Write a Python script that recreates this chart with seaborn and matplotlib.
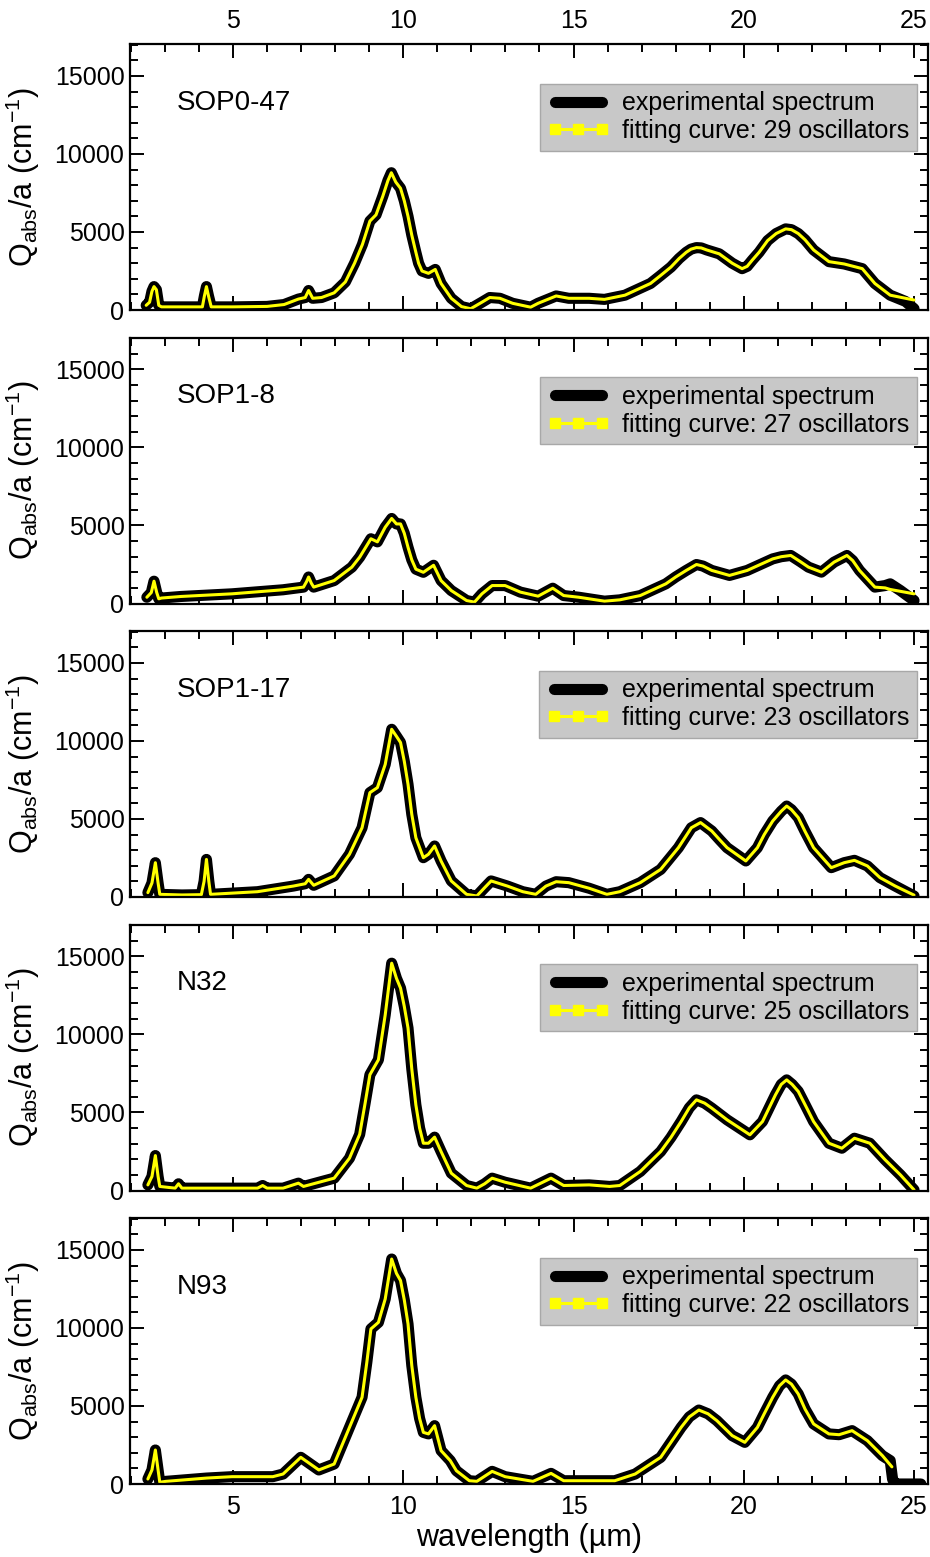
import matplotlib
matplotlib.use("Agg")
import matplotlib.pyplot as plt
from matplotlib.lines import Line2D
from matplotlib.ticker import MultipleLocator
import seaborn as sns

# spectra: wavelength (um) and Q_abs/a (cm^-1)
sop047_wl = [2.45, 2.55, 2.62, 2.68, 2.75, 2.82, 2.9, 3.5, 4.1, 4.16, 4.22, 4.28, 4.36, 5.0, 6.0, 6.5, 6.92, 7.12,
             7.22, 7.34, 7.6, 7.97, 8.3, 8.57, 8.8, 9.02, 9.2, 9.4, 9.55, 9.65, 9.78, 9.92, 10.03, 10.14, 10.25,
             10.37, 10.45, 10.55, 10.74, 10.94, 11.11, 11.41, 11.71, 11.98, 12.31, 12.54, 12.84, 13.21, 13.74,
             13.96, 14.49, 14.86, 15.46, 15.91, 16.51, 17.26, 17.55, 17.86, 18.1, 18.31, 18.45, 18.61, 18.75,
             18.91, 19.28, 19.66, 19.95, 20.1, 20.25, 20.45, 20.7, 20.95, 21.23, 21.4, 21.6, 21.8, 22.05, 22.5,
             22.95, 23.48, 23.85, 24.3, 24.75, 25.0]
sop047_exp = [300, 500, 1200, 1500, 1300, 300, 200, 200, 200, 900, 1500, 900, 200, 200, 230, 350, 700, 800,
              1250, 750, 800, 1100, 1800, 3000, 4200, 5700, 6100, 7300, 8300, 8800, 8200, 7800, 7000, 6000, 4800,
              3700, 3000, 2500, 2350, 2600, 1700, 750, 220, 80, 500, 800, 750, 430, 180,
              430, 900, 750, 750, 680, 950, 1700, 2200, 2750, 3300, 3700, 3900, 4000, 3980,
              3850, 3600, 3000, 2650, 2800, 3200, 3700, 4450, 4900, 5200, 5150, 4900, 4500, 3850, 3100,
              2950, 2650, 1700, 950, 550, 80]
sop047_fit = sop047_exp[:-2] + [750, 640]

sop18_wl = [2.47, 2.6, 2.68, 2.76, 2.82, 2.9, 3.47, 4.97, 6.47, 7.07, 7.16, 7.22, 7.3, 7.37, 7.97, 8.49, 8.72,
            9.05, 9.24, 9.47, 9.66, 9.8, 9.92, 10.03, 10.14, 10.25, 10.37, 10.59, 10.89, 11.11, 11.41, 11.86,
            12.09, 12.31, 12.61, 12.99, 13.44, 13.96, 14.39, 14.71, 15.16, 15.91, 16.36, 16.96, 17.71, 18.0,
            18.31, 18.61, 18.8, 19.06, 19.58, 20.1, 20.85, 21.1, 21.38, 21.65, 21.9, 22.28, 22.65, 23.03, 23.2,
            23.4, 23.85, 24.15, 24.3, 24.6, 25.0]
sop18_exp = [400, 700, 1430, 700, 300, 350, 450, 620, 880, 1050, 1400, 1700, 1300, 1050, 1470, 2330, 2970,
             4150, 3950, 4890, 5450, 5100, 5100, 4500, 3600, 2800, 2200, 2000, 2450, 1470, 830, 190,
             85, 620, 1150, 1150, 730, 470, 980, 510, 400, 150, 235, 510, 1260, 1700,
             2120, 2500, 2400, 2120, 1800, 2120, 2860, 3000, 3080, 2700, 2330, 2010, 2650, 3080, 2750,
             2120, 1050, 1150, 1260, 830, 190]
sop18_fit = sop18_exp[:-4] + [1000, 900, 780, 620]

sop117_wl = [2.5, 2.62, 2.72, 2.8, 2.85, 3.5, 4.07, 4.15, 4.22, 4.29, 4.34, 5.72, 6.77, 7.12, 7.22, 7.37, 7.97,
             8.42, 8.79, 9.02, 9.24, 9.47, 9.66, 9.8, 9.92, 10.03, 10.14, 10.25, 10.37, 10.59, 10.74, 10.92,
             11.11, 11.41, 11.86, 12.16, 12.39, 12.58, 13.06, 13.51, 13.89, 14.19, 14.49, 14.86, 15.46, 15.98,
             16.36, 16.96, 17.56, 18.08, 18.3, 18.46, 18.73, 19.06, 19.3, 19.51, 20.06, 20.4, 20.6, 20.85, 21.1,
             21.26, 21.4, 21.6, 21.8, 22.05, 22.57, 22.95, 23.25, 23.63, 24.0, 24.45, 25.0]
sop117_exp = [280, 900, 2200, 900, 170, 130, 150, 1000, 2410, 1000, 170, 340, 700, 850, 1130, 750, 1350,
              2740, 4440, 6690, 7010, 8500, 10750, 10300, 9900, 8700, 7220, 5300, 3800, 2520, 2740, 3270,
              2310, 1030, 170, 64, 600, 1030, 700, 340, 170, 700, 980, 920, 560, 170,
              340, 920, 1770, 3160, 3900, 4440, 4770, 4230, 3650, 3160, 2310, 3160, 4000, 4870, 5500,
              5830, 5600, 5090, 4200, 3160, 1880, 2200, 2350, 1990, 1240, 700, 64]
sop117_fit = sop117_exp[:-1] + [120]

n32_wl = [2.5, 2.62, 2.72, 2.8, 2.85, 3.3, 3.4, 3.5, 5.72, 5.87, 6.0, 6.47, 6.92, 7.07, 7.97, 8.42, 8.72, 8.88,
          9.02, 9.27, 9.47, 9.66, 9.8, 9.92, 10.03, 10.14, 10.25, 10.37, 10.48, 10.59, 10.74, 10.92, 11.11,
          11.41, 11.86, 12.16, 12.39, 12.61, 12.99, 13.74, 14.34, 14.71, 15.46, 16.06, 16.36, 16.96, 17.56,
          17.86, 18.16, 18.4, 18.61, 18.85, 19.06, 19.51, 20.18, 20.55, 20.93, 21.1, 21.26, 21.42, 21.6, 21.8,
          22.05, 22.5, 22.88, 23.25, 23.7, 24.15, 24.6, 25.0]
n32_exp = [360, 900, 2240, 900, 260, 150, 430, 150, 150, 320, 150, 150, 470, 260, 790, 2070, 3600, 5600,
           7420, 8380, 11260, 14570, 13600, 12970, 11800, 10410, 7800, 5490, 4000, 3030, 3030, 3420, 2500,
           1110, 320, 150, 430, 790, 530, 150, 790, 320, 360, 260, 320, 1220, 2500,
           3400, 4420, 5300, 5810, 5600, 5280, 4530, 3570, 4420, 6130, 6800, 7090, 6800, 6350, 5500,
           4420, 3030, 2710, 3350, 3030, 1970, 1000, 40]
n32_fit = n32_exp[:]

n93_wl = [2.5, 2.62, 2.72, 2.8, 2.85, 3.03, 4.22, 4.97, 6.17, 6.47, 6.99, 7.52, 7.97, 8.42, 8.79, 8.93, 9.05,
          9.27, 9.47, 9.66, 9.8, 9.92, 10.03, 10.14, 10.25, 10.37, 10.48, 10.59, 10.74, 10.92, 11.11, 11.38,
          11.56, 11.94, 12.16, 12.61, 12.99, 13.81, 14.34, 14.71, 16.21, 16.81, 17.56, 18.16, 18.4, 18.68,
          18.95, 19.21, 19.66, 20.03, 20.4, 20.6, 20.85, 21.05, 21.23, 21.4, 21.6, 21.8, 22.05, 22.5, 22.8,
          23.18, 23.63, 24.07, 24.3, 24.37, 24.45, 25.2]
n93_exp = [320, 900, 2180, 900, 110, 170, 380, 470, 470, 640, 1710, 900, 1280, 3630, 5560, 7800, 9940,
           10360, 11860, 14420, 13500, 13040, 11800, 10260, 7600, 5560, 4200, 3310, 3210, 3740, 2140, 1500,
           850, 210, 170, 810, 470, 170, 680, 210, 210, 640, 1710, 3630, 4300, 4740,
           4500, 4060, 3100, 2670, 3630, 4500, 5560, 6300, 6670, 6400, 5770, 4800, 3850, 3210, 3160,
           3420, 2780, 1820, 1500, 300, 0, 0]
n93_fit_wl = n93_wl[:-4] + [24.35]
n93_fit = n93_exp[:-4] + [1100]

names = ["SOP0-47", "SOP1-8", "SOP1-17", "N32", "N93"]
oscillators = [29, 27, 23, 25, 22]

panels = [
    (sop047_wl, sop047_exp, sop047_wl, sop047_fit),
    (sop18_wl, sop18_exp, sop18_wl, sop18_fit),
    (sop117_wl, sop117_exp, sop117_wl, sop117_fit),
    (n32_wl, n32_exp, n32_wl, n32_fit),
    (n93_wl, n93_exp, n93_fit_wl, n93_fit),
]

sns.set_theme(style="ticks")
plt.rcParams["font.family"] = ["Liberation Sans", "DejaVu Sans"]
plt.rcParams["mathtext.fontset"] = "custom"
plt.rcParams["mathtext.rm"] = "Liberation Sans"
plt.rcParams["mathtext.it"] = "Liberation Sans:italic"
plt.rcParams["mathtext.bf"] = "Liberation Sans:bold"
plt.rcParams["text.color"] = "black"
plt.rcParams["axes.labelcolor"] = "black"
plt.rcParams["xtick.color"] = "black"
plt.rcParams["ytick.color"] = "black"

W, H = 930, 1557
fig = plt.figure(figsize=(W / 100, H / 100), dpi=100)

label_y = [0.78, 0.78, 0.78, 0.78, 0.74]

for i, (wl, exp, fwl, fit) in enumerate(panels):
    top = 44 + 293.5 * i
    ax = fig.add_axes([130 / W, 1 - (top + 266) / H, 798 / W, 266 / H])

    sns.lineplot(x=wl, y=exp, ax=ax, color="black", lw=8, sort=False,
                 estimator=None, solid_capstyle="round", solid_joinstyle="round")
    sns.lineplot(x=fwl, y=fit, ax=ax, color="#ffff00", lw=2.2, sort=False,
                 estimator=None, solid_joinstyle="round")

    ax.set_xlim(1.975, 25.41)
    ax.set_ylim(0, 17050)
    ax.xaxis.set_major_locator(MultipleLocator(5))
    ax.xaxis.set_minor_locator(MultipleLocator(1))
    ax.yaxis.set_major_locator(MultipleLocator(5000))
    ax.yaxis.set_minor_locator(MultipleLocator(1000))
    ax.tick_params(which="both", direction="in", top=True, right=True, width=1.4,
                   colors="black", labelsize=18)
    ax.tick_params(which="major", length=10)
    ax.tick_params(which="minor", length=6)
    ax.tick_params(axis="y", pad=4)
    ax.tick_params(axis="x", pad=8)
    for sp in ax.spines.values():
        sp.set_linewidth(1.6)
        sp.set_color("black")

    if i == 0:
        ax.tick_params(axis="x", labeltop=True, labelbottom=False)
    elif i < 4:
        ax.tick_params(axis="x", labelbottom=False)
    else:
        ax.set_xlabel("wavelength (µm)", fontsize=22, labelpad=3)

    ax.set_ylabel(r"Q$_{\mathrm{abs}}$/a (cm$^{\mathrm{-1}}$)", fontsize=22, labelpad=9)

    ax.text(0.059, label_y[i], names[i], transform=ax.transAxes, fontsize=20,
            ha="left", va="center")

    handles = [
        Line2D([], [], color="black", lw=8, solid_capstyle="round"),
        Line2D([], [], color="#ffff00", lw=2.2, marker="s", markersize=7,
               markeredgecolor="#ffff00"),
    ]
    labels = ["experimental spectrum",
              "fitting curve: %d oscillators" % oscillators[i]]
    ax.legend(handles, labels, loc="upper right", bbox_to_anchor=(0.986, 0.85),
              borderaxespad=0, fontsize=18, frameon=True, fancybox=False,
              facecolor="#c8c8c8", edgecolor="#a8a8a8", framealpha=1,
              handlelength=2.5, handletextpad=0.5, labelspacing=0.15,
              borderpad=0.3, numpoints=3)

fig.savefig("out.png", dpi=100)
